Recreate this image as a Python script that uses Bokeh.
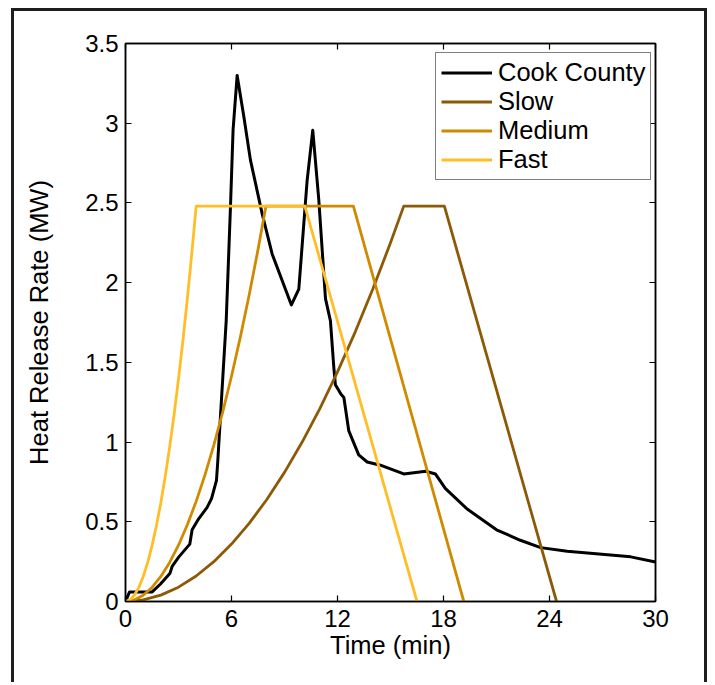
from bokeh.plotting import figure
from bokeh.models import LinearAxis, FixedTicker, Legend, LegendItem, Range1d, CustomLabelingPolicy
from bokeh.embed import file_html
from bokeh.resources import INLINE

# ---------------- data ----------------
cook_t = [0, 0.23, 1.51, 1.98, 2.51, 2.64, 3.02, 3.64, 3.77, 4.15, 4.62, 4.87, 5.15,
          5.22, 5.70, 5.94, 6.09, 6.32, 6.70, 7.07, 7.74, 8.30, 9.39, 9.81, 10.28,
          10.60, 10.94, 11.32, 11.60, 11.79, 11.88, 12.20, 12.36, 12.64, 13.20, 13.68,
          14.43, 15.75, 17.00, 17.54, 18.10, 19.34, 21.00, 22.35, 23.50, 25.00, 28.60, 30.00]
cook_v = [0, 0.06, 0.06, 0.11, 0.175, 0.22, 0.28, 0.36, 0.45, 0.52, 0.59, 0.645, 0.76,
          0.875, 1.76, 2.47, 2.96, 3.30, 3.04, 2.77, 2.43, 2.18, 1.86, 1.96, 2.64,
          2.956, 2.52, 1.90, 1.76, 1.47, 1.36, 1.30, 1.28, 1.07, 0.92, 0.875,
          0.855, 0.80, 0.817, 0.80, 0.71, 0.58, 0.45, 0.384, 0.338, 0.315, 0.28, 0.248]

slow_t = [0, 1, 2, 3, 4, 5, 6, 7, 8, 9, 10, 11, 12, 13, 14, 15, 15.75, 18.05, 24.4]
slow_v = [0, 0.010, 0.040, 0.090, 0.160, 0.250, 0.360, 0.490, 0.640, 0.810, 1.000,
          1.210, 1.440, 1.690, 1.960, 2.250, 2.48, 2.48, 0]

medium_t = [0, 0.5, 1, 1.5, 2, 2.5, 3, 3.5, 4, 4.5, 5, 5.5, 6, 6.5, 7, 7.5, 7.95, 12.9, 19.15]
medium_v = [0, 0.010, 0.039, 0.088, 0.157, 0.245, 0.353, 0.481, 0.628, 0.794, 0.981,
            1.187, 1.413, 1.658, 1.923, 2.207, 2.48, 2.48, 0]

fast_t = [0, 0.25, 0.5, 0.75, 1, 1.25, 1.5, 1.75, 2, 2.25, 2.5, 2.75, 3, 3.25, 3.5, 3.75, 4.0, 10.15, 16.5]
fast_v = [0, 0.010, 0.039, 0.087, 0.155, 0.242, 0.349, 0.475, 0.620, 0.785, 0.969,
          1.172, 1.395, 1.637, 1.899, 2.180, 2.48, 2.48, 0]

series_names = ["Cook County", "Slow", "Medium", "Fast"]
series_colors = ["#000000", "#8C5A06", "#D08A00", "#FFBE28"]

x_ticks = [0, 6, 12, 18, 24, 30]
x_tick_labels = ["0", "6", "12", "18", "24", "30"]
y_ticks = [0, 0.5, 1, 1.5, 2, 2.5, 3, 3.5]
y_tick_labels = ["0", "0.5", "1", "1.5", "2", "2.5", "3", "3.5"]

x_label = "Time (min)"
y_label = "Heat Release Rate (MW)"

FONT = "Liberation Sans"
TICK_FS = "24px"
LABEL_FS = "25.5px"

p = figure(width=696, height=674, output_backend="svg", toolbar_location=None,
           x_range=Range1d(0, 30), y_range=Range1d(0, 3.5),
           min_border_left=111, min_border_right=55, min_border_top=32, min_border_bottom=84)
p.styles = {"margin-left": "11px", "margin-top": "8px",
            "border-top": "3px solid #1e1e1e",
            "border-left": "3px solid #1e1e1e", "border-right": "3px solid #1e1e1e",
            "margin-bottom": "-8px"}
p.xgrid.visible = False
p.ygrid.visible = False
p.outline_line_color = "black"
p.outline_line_width = 1.5
p.background_fill_color = "white"
p.border_fill_color = "white"

def style_axis(ax, ticks, labels, show_labels=True):
    ax.ticker = FixedTicker(ticks=ticks)
    ax.major_label_overrides = {t: l for t, l in zip(ticks, labels)}
    ax.major_tick_in = 6
    ax.major_tick_out = 0
    ax.minor_tick_line_color = None
    ax.axis_line_color = "black"
    ax.axis_line_width = 1.5
    ax.major_tick_line_color = "black"
    ax.major_tick_line_width = 1.2
    ax.major_label_text_font = FONT
    ax.major_label_text_font_size = TICK_FS
    ax.major_label_text_color = "black"
    ax.axis_label_text_font = FONT
    ax.axis_label_text_font_size = LABEL_FS
    ax.axis_label_text_font_style = "normal"
    ax.axis_label_text_color = "black"
    if not show_labels:
        ax.major_label_policy = CustomLabelingPolicy(code="return []")

xa = p.xaxis[0]
ya = p.yaxis[0]
style_axis(xa, x_ticks, x_tick_labels)
style_axis(ya, y_ticks, y_tick_labels)
xa.axis_label = x_label
ya.axis_label = y_label
xa.major_label_standoff = 8
xa.axis_label_standoff = 1
ya.major_label_standoff = 7
ya.axis_label_standoff = 29

top = LinearAxis()
style_axis(top, x_ticks, x_tick_labels, show_labels=False)
p.add_layout(top, "above")
right = LinearAxis()
style_axis(right, y_ticks, y_tick_labels, show_labels=False)
p.add_layout(right, "right")

data = [(cook_t, cook_v), (slow_t, slow_v), (medium_t, medium_v), (fast_t, fast_v)]
widths = [3, 2.8, 2.8, 2.8]
items = []
for (t, v), name, col, w in zip(data, series_names, series_colors, widths):
    r = p.line(t, v, line_color=col, line_width=w, line_join="round")
    items.append(LegendItem(label=name, renderers=[r]))

legend = Legend(items=items, location=(310, 421))
legend.label_text_font = FONT
legend.label_text_font_size = LABEL_FS
legend.label_text_line_height = 1.0
legend.label_text_color = "black"
legend.glyph_width = 51
legend.glyph_height = 29
legend.label_height = 29
legend.label_standoff = 6
legend.spacing = 0
legend.padding = 5
legend.margin = 0
legend.border_line_color = "black"
legend.border_line_width = 1
legend.background_fill_color = "white"
legend.background_fill_alpha = 1
p.add_layout(legend, "center")

open("out.html", "w").write(file_html(p, INLINE))
